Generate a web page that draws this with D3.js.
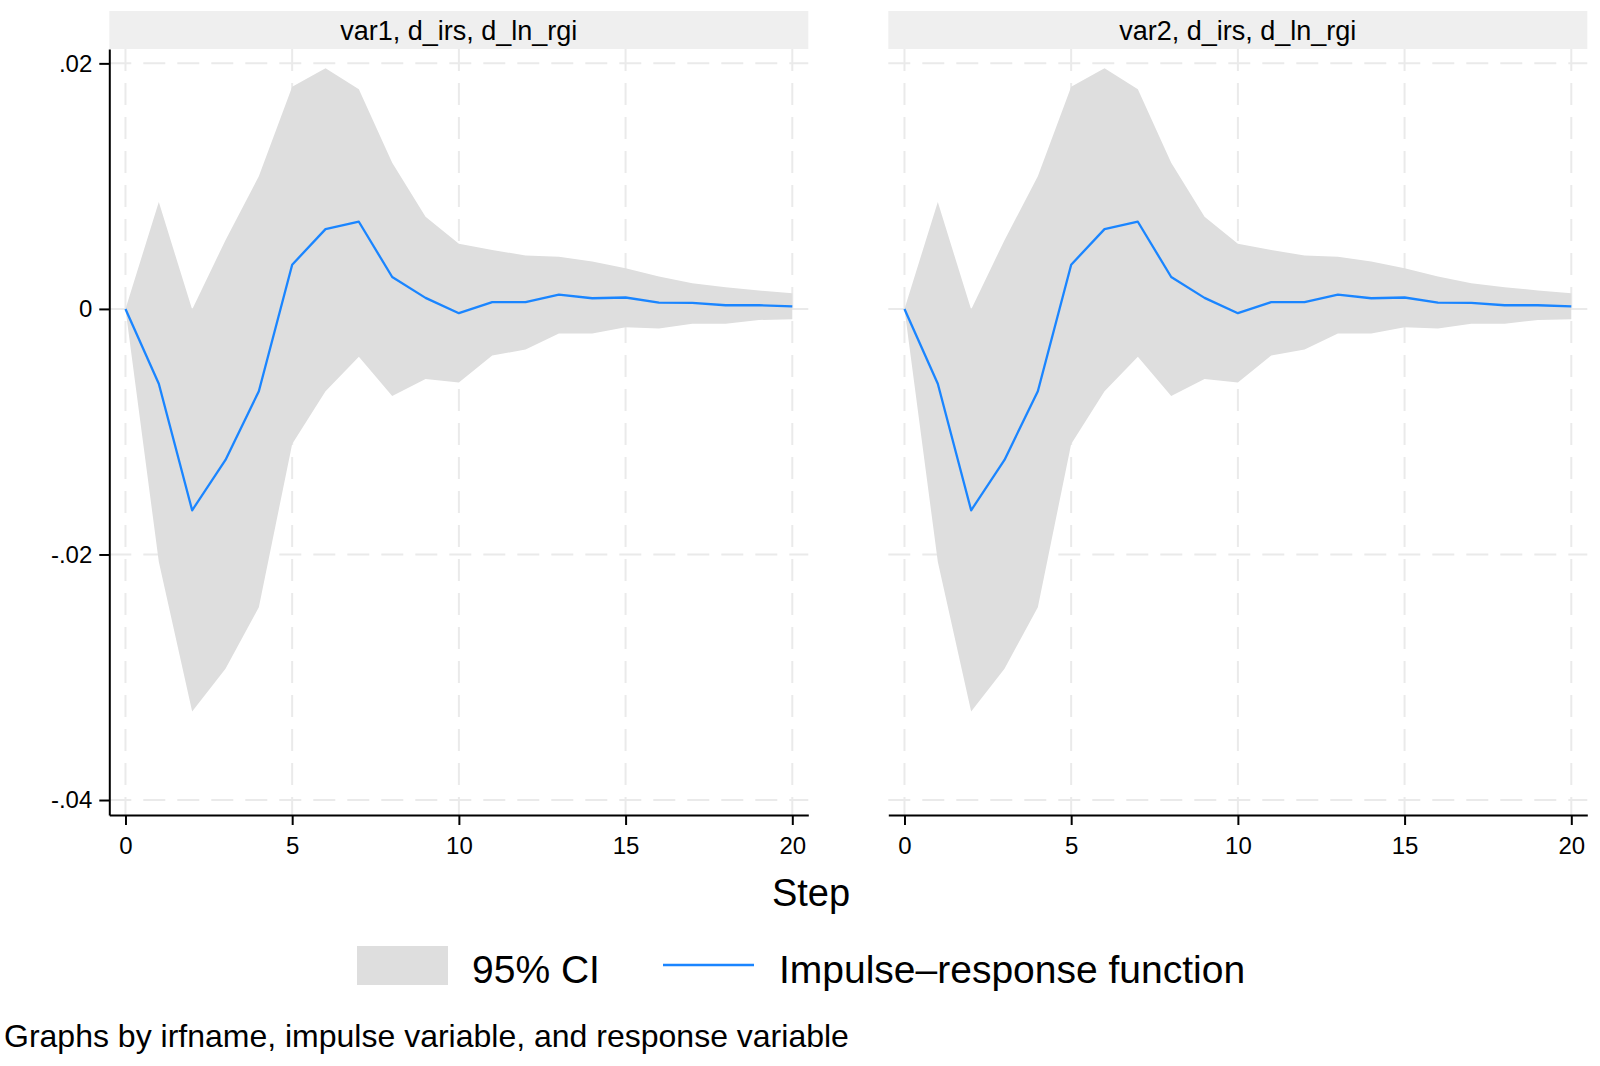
<!DOCTYPE html>
<html>
<head>
<meta charset="utf-8">
<script src="https://cdn.jsdelivr.net/npm/d3@7"></script>
<style>
  body { margin: 0; background: #fff; }
  svg { display: block; font-family: 'Liberation Sans', Arial, sans-serif; }
</style>
</head>
<body>
<svg id="chart" width="1600" height="1066"></svg>
<script>
/* data, same irf in both panels */
const panelTitles = ['var1, d_irs, d_ln_rgi', 'var2, d_irs, d_ln_rgi']
const steps = [0, 1, 2, 3, 4, 5, 6, 7, 8, 9, 10, 11, 12, 13, 14, 15, 16, 17, 18, 19, 20]
const irf = [0, -0.0061, -0.0164, -0.0123, -0.0067, 0.0036, 0.0065, 0.0071, 0.0026, 0.0009,
  -0.00035, 0.00055, 0.00055, 0.00117, 0.00087, 0.00093, 0.00052, 0.00049, 0.0003, 0.0003, 0.0002]
const ciUpper = [0, 0.0087, -0.00005, 0.0056, 0.0108, 0.0181, 0.0196, 0.0179, 0.0119, 0.0075,
  0.0053, 0.0048, 0.00435, 0.00424, 0.00386, 0.00332, 0.00264, 0.0021, 0.00177, 0.0015, 0.00128]
const ciLower = [0, -0.0206, -0.0328, -0.0293, -0.0243, -0.011, -0.0067, -0.0039, -0.0071, -0.0057,
  -0.006, -0.0038, -0.0033, -0.002, -0.002, -0.0015, -0.0016, -0.0012, -0.0012, -0.0009, -0.00084]
const xTicks = [0, 5, 10, 15, 20]
const yTicks = [0.02, 0, -0.02, -0.04]
const yTickLabels = ['.02', '0', '-.02', '-.04']

/* layout */
const layout = {
  panelLeft: [109.3, 888.3],
  panelWidth: 699,
  top: 49,
  bottom: 815,
  stripTop: 11,
  xDomain: [-0.485, 20.48],
  yDomain: [-0.04122, 0.02117],
  ciFill: '#dedede',
  lineColor: '#1a85ff',
  gridColor: '#eaeaea',
  stripFill: '#efefef'
}

const svg = d3.select('#chart')

const y = d3.scaleLinear().domain(layout.yDomain).range([layout.bottom, layout.top])

panelTitles.forEach((title, p) => {
  const left = layout.panelLeft[p]
  const right = left + layout.panelWidth
  const x = d3.scaleLinear().domain(layout.xDomain).range([left, right])
  const g = svg.append('g')

  // strip
  g.append('rect')
    .attr('x', left).attr('y', layout.stripTop)
    .attr('width', layout.panelWidth).attr('height', layout.top - layout.stripTop)
    .attr('fill', layout.stripFill)
  g.append('text')
    .attr('x', (left + right) / 2).attr('y', 40)
    .attr('text-anchor', 'middle')
    .style('font-size', '27px')
    .text(title)

  // grid
  g.selectAll('.gx').data(xTicks).join('line')
    .attr('x1', d => x(d)).attr('x2', d => x(d))
    .attr('y1', layout.top).attr('y2', layout.bottom)
    .attr('stroke', layout.gridColor).attr('stroke-width', 2)
    .attr('stroke-dasharray', '22 12')
  g.selectAll('.gy').data(yTicks).join('line')
    .attr('x1', left).attr('x2', right)
    .attr('y1', d => y(d)).attr('y2', d => y(d))
    .attr('stroke', layout.gridColor).attr('stroke-width', 2)
    .attr('stroke-dasharray', '22 12')

  // CI band
  const area = d3.area()
    .x((d, i) => x(steps[i]))
    .y0((d, i) => y(ciLower[i]))
    .y1((d, i) => y(ciUpper[i]))
  g.append('path').datum(steps).attr('d', area).attr('fill', layout.ciFill)

  // irf line
  const line = d3.line().x((d, i) => x(steps[i])).y(d => y(d))
  g.append('path').datum(irf).attr('d', line)
    .attr('fill', 'none').attr('stroke', layout.lineColor)
    .attr('stroke-width', 2.3).attr('stroke-linejoin', 'round')

  // x axis
  const xAxis = g.append('g')
    .attr('transform', `translate(0,${layout.bottom})`)
    .call(d3.axisBottom(x).tickValues(xTicks).tickSize(10).tickSizeOuter(0).tickPadding(12))
  xAxis.select('.domain').attr('stroke', '#000').attr('stroke-width', 2)
  xAxis.selectAll('.tick line').attr('stroke', '#000').attr('stroke-width', 2)
  xAxis.selectAll('.tick text')
    .style('font-size', '24px').style('font-family', "'Liberation Sans', Arial, sans-serif")
    .attr('fill', '#000')

  // y axis only on the first panel
  if (p === 0) {
    const yAxis = g.append('g')
      .attr('transform', `translate(${left},0)`)
      .call(d3.axisLeft(y).tickValues(yTicks).tickSize(10).tickSizeOuter(0).tickPadding(7)
        .tickFormat((d, i) => yTickLabels[i]))
    yAxis.select('.domain').attr('stroke', '#000').attr('stroke-width', 2)
    yAxis.selectAll('.tick line').attr('stroke', '#000').attr('stroke-width', 2)
    yAxis.selectAll('.tick text')
      .style('font-size', '24px').style('font-family', "'Liberation Sans', Arial, sans-serif")
      .attr('fill', '#000')
  }
})

// x title
svg.append('text')
  .attr('x', 811).attr('y', 906)
  .attr('text-anchor', 'middle')
  .style('font-size', '38px')
  .text('Step')

// legend
svg.append('rect')
  .attr('x', 357).attr('y', 946).attr('width', 91).attr('height', 39)
  .attr('fill', layout.ciFill)
svg.append('text')
  .attr('x', 472).attr('y', 983)
  .style('font-size', '39px')
  .text('95% CI')
svg.append('line')
  .attr('x1', 663).attr('x2', 754).attr('y1', 965).attr('y2', 965)
  .attr('stroke', layout.lineColor).attr('stroke-width', 2.5)
svg.append('text')
  .attr('x', 779).attr('y', 983)
  .style('font-size', '39px')
  .text('Impulse–response function')

// note
svg.append('text')
  .attr('x', 4).attr('y', 1047)
  .style('font-size', '32px')
  .text('Graphs by irfname, impulse variable, and response variable')
</script>
</body>
</html>
